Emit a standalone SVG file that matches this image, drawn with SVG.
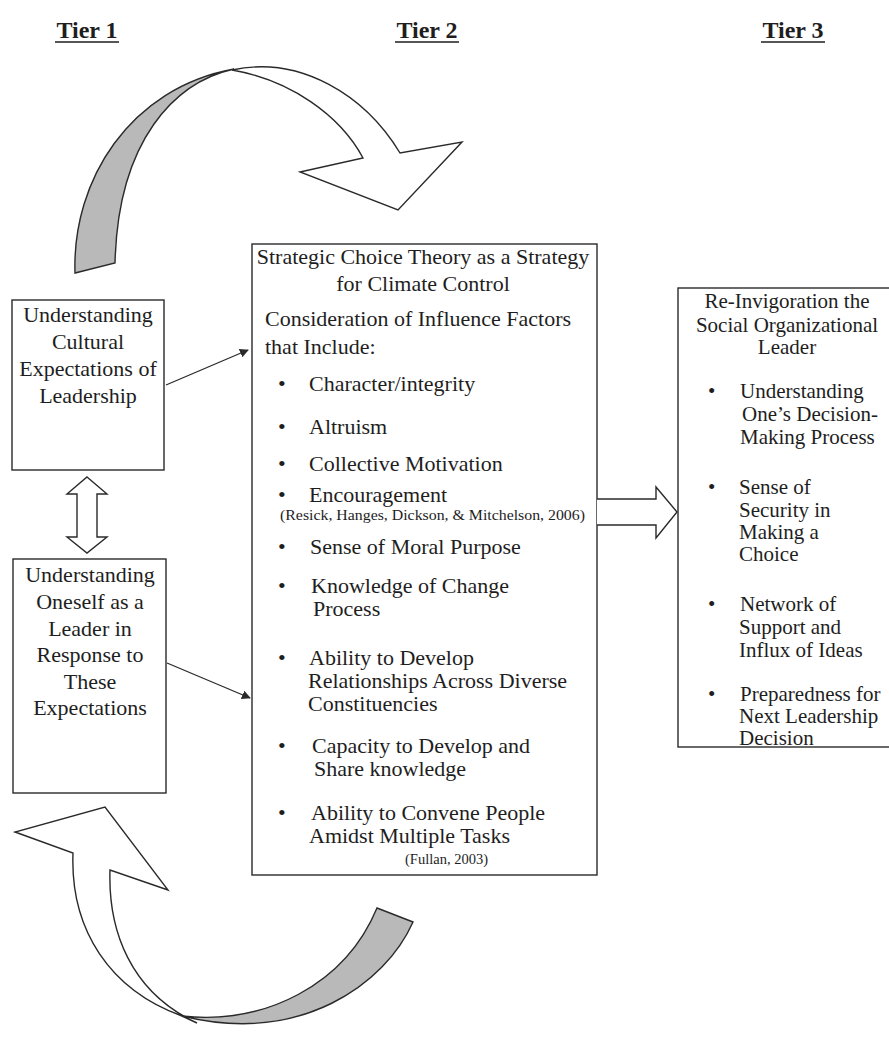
<svg xmlns="http://www.w3.org/2000/svg" width="889" height="1039" viewBox="0 0 889 1039">
<style>
  .t { font-family: "Liberation Serif", "Times New Roman", serif; fill: #1e1e1e; }
  .tier { font-size: 24px; font-weight: bold; }
  .b1 { font-size: 22px; }
  .b3 { font-size: 21px; }
  .cite { font-size: 14.5px; }
  .box { fill: none; stroke: #2a2a2a; stroke-width: 1.4; }
  .edge { stroke: #2a2a2a; stroke-width: 1.3; fill: none; }
  .white { fill: #ffffff; stroke: #2a2a2a; stroke-width: 1.4; stroke-linejoin: miter; }
  .grey { fill: #b9b9b9; stroke: #2a2a2a; stroke-width: 1.4; }
</style>
<defs>
  <marker id="ah" viewBox="0 0 10 10" refX="9" refY="5" markerWidth="9" markerHeight="9" markerUnits="userSpaceOnUse" orient="auto">
    <path d="M0,0 L10,5 L0,10 Z" fill="#2a2a2a"/>
  </marker>
</defs>
<rect width="889" height="1039" fill="#ffffff"/>

<!-- Tier headings -->
<g id="tier1">
  <text class="t tier" text-anchor="middle" x="87" y="38">Tier 1</text>
  <line x1="55" y1="42" x2="119" y2="42" stroke="#1e1e1e" stroke-width="1.5"/>
</g>
<g id="tier2">
  <text class="t tier" text-anchor="middle" x="427" y="38">Tier 2</text>
  <line x1="395" y1="42" x2="459" y2="42" stroke="#1e1e1e" stroke-width="1.5"/>
</g>
<g id="tier3">
  <text class="t tier" text-anchor="middle" x="793" y="38">Tier 3</text>
  <line x1="761" y1="42" x2="825" y2="42" stroke="#1e1e1e" stroke-width="1.5"/>
</g>

<!-- Curved cycle arrows -->
<g id="top-cycle-arrow">
  <path class="grey" d="M75,273 C72,180 130,88 234,69 C175,82 118,140 115,263 Z"/>
  <path class="white" d="M232,70 C300,55 365,95 400,153 L462,142 L398,210 L300,172 L363,158 C340,115 290,80 232,70 Z"/>
</g>
<g id="bottom-cycle-arrow">
  <path class="white" d="M182,1016 C110,990 70,930 73,853 L15,832 L105,807 L168,890 L110,870 C108,930 130,992 197,1023 Z"/>
  <path class="grey" d="M377,908 L413,922 C385,985 300,1045 182,1016 C265,1025 345,985 377,908 Z"/>
</g>

<!-- Tier 1 nodes -->
<g id="node-cultural">
  <rect class="box" x="12" y="300" width="152" height="170"/>
  <text class="t b1" text-anchor="middle" x="88" y="322">Understanding</text>
  <text class="t b1" text-anchor="middle" x="88" y="349">Cultural</text>
  <text class="t b1" text-anchor="middle" x="88" y="376">Expectations of</text>
  <text class="t b1" text-anchor="middle" x="88" y="403">Leadership</text>
</g>
<g id="node-oneself">
  <rect class="box" x="13" y="559" width="153" height="234"/>
  <text class="t b1" text-anchor="middle" x="90" y="582">Understanding</text>
  <text class="t b1" text-anchor="middle" x="90" y="609">Oneself as a</text>
  <text class="t b1" text-anchor="middle" x="90" y="636">Leader in</text>
  <text class="t b1" text-anchor="middle" x="90" y="662">Response to</text>
  <text class="t b1" text-anchor="middle" x="90" y="689">These</text>
  <text class="t b1" text-anchor="middle" x="90" y="715">Expectations</text>
</g>

<!-- Tier 2 node -->
<g id="node-strategic">
  <rect class="box" x="252" y="244" width="345" height="631"/>
  <text class="t b1" text-anchor="middle" x="423" y="264">Strategic Choice Theory as a Strategy</text>
  <text class="t b1" text-anchor="middle" x="423" y="291">for Climate Control</text>
  <text class="t b1" x="265" y="326">Consideration of Influence Factors</text>
  <text class="t b1" x="265" y="354">that Include:</text>
  <text class="t b1" x="278" y="391">•</text><text class="t b1" x="309" y="391">Character/integrity</text>
  <text class="t b1" x="278" y="434">•</text><text class="t b1" x="309" y="434">Altruism</text>
  <text class="t b1" x="278" y="471">•</text><text class="t b1" x="309" y="471">Collective Motivation</text>
  <text class="t b1" x="278" y="502">•</text><text class="t b1" x="309" y="502">Encouragement</text>
  <text class="t cite" x="280" y="520" textLength="305" lengthAdjust="spacingAndGlyphs">(Resick, Hanges, Dickson, &amp; Mitchelson, 2006)</text>
  <text class="t b1" x="278" y="554">•</text><text class="t b1" x="310" y="554">Sense of Moral Purpose</text>
  <text class="t b1" x="278" y="593">•</text><text class="t b1" x="311" y="593">Knowledge of Change</text>
  <text class="t b1" x="313" y="616">Process</text>
  <text class="t b1" x="278" y="665">•</text><text class="t b1" x="309" y="665">Ability to Develop</text>
  <text class="t b1" x="308" y="688">Relationships Across Diverse</text>
  <text class="t b1" x="308" y="711">Constituencies</text>
  <text class="t b1" x="278" y="753">•</text><text class="t b1" x="312" y="753">Capacity to Develop and</text>
  <text class="t b1" x="314" y="776">Share knowledge</text>
  <text class="t b1" x="278" y="820">•</text><text class="t b1" x="311" y="820">Ability to Convene People</text>
  <text class="t b1" x="309" y="843">Amidst Multiple Tasks</text>
  <text class="t cite" x="405" y="864">(Fullan, 2003)</text>
</g>

<!-- Tier 3 node -->
<g id="node-reinvigoration">
  <rect class="box" x="678" y="288" width="220" height="459"/>
  <text class="t b3" text-anchor="middle" x="787" y="308">Re-Invigoration the</text>
  <text class="t b3" text-anchor="middle" x="787" y="332">Social Organizational</text>
  <text class="t b3" text-anchor="middle" x="787" y="354">Leader</text>
  <text class="t b3" x="708" y="398">•</text><text class="t b3" x="740" y="398">Understanding</text>
  <text class="t b3" x="742" y="421">One’s Decision-</text>
  <text class="t b3" x="740" y="444">Making Process</text>
  <text class="t b3" x="708" y="494">•</text><text class="t b3" x="739" y="494">Sense of</text>
  <text class="t b3" x="739" y="517">Security in</text>
  <text class="t b3" x="739" y="539">Making a</text>
  <text class="t b3" x="739" y="561">Choice</text>
  <text class="t b3" x="708" y="611">•</text><text class="t b3" x="740" y="611">Network of</text>
  <text class="t b3" x="739" y="634">Support and</text>
  <text class="t b3" x="739" y="657">Influx of Ideas</text>
  <text class="t b3" x="708" y="701">•</text><text class="t b3" x="740" y="701">Preparedness for</text>
  <text class="t b3" x="739" y="723">Next Leadership</text>
  <text class="t b3" x="739" y="745">Decision</text>
</g>

<!-- Connectors -->
<g id="connectors">
  <line class="edge" x1="166" y1="385" x2="248" y2="350" marker-end="url(#ah)"/>
  <line class="edge" x1="167" y1="663" x2="250" y2="698" marker-end="url(#ah)"/>
  <path class="white" d="M87,477 L107,494 L97,494 L97,537 L107,537 L87,553 L67,537 L77,537 L77,494 L67,494 Z"/>
  <path class="white" d="M597,499 L656,499 L656,487 L677,512 L656,538 L656,525 L597,525"/>
</g>
</svg>
